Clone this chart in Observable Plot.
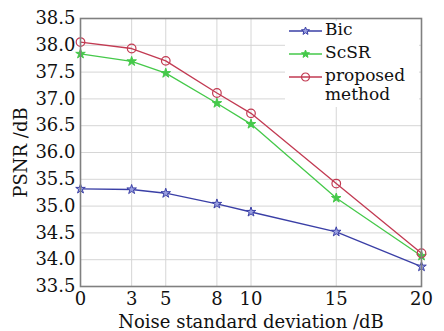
<!DOCTYPE html>
<html><head><meta charset="utf-8">
<script src="https://cdn.jsdelivr.net/npm/d3@7"></script>
<script src="https://cdn.jsdelivr.net/npm/@observablehq/plot@0.6"></script>
<style>
body{margin:0;background:#fff;}
#wrap{position:relative;width:444px;height:331px;font-family:"DejaVu Serif",serif;}
#legend{position:absolute;left:285px;top:21px;width:134px;height:86px;background:#fff;font-size:17px;color:#111;}
.item{position:absolute;left:0;display:flex;align-items:flex-start;}
.item span{margin-left:3px;line-height:19px;margin-top:-1px;}
</style></head><body><div id="wrap"><div id="plot"></div><div id="legend"></div></div>
<script>
const noise = [0, 3, 5, 8, 10, 15, 20];
const bic = [35.32, 35.31, 35.24, 35.04, 34.89, 34.52, 33.87];
const scsr = [37.84, 37.70, 37.48, 36.92, 36.53, 35.15, 34.07];
const proposed = [38.06, 37.94, 37.71, 37.11, 36.73, 35.42, 34.12];
const yTicks = [33.5, 34.0, 34.5, 35.0, 35.5, 36.0, 36.5, 37.0, 37.5, 38.0, 38.5];
const seriesNames = ["Bic", "ScSR", "proposed method"];
const seriesColors = ["#3a3fa6", "#45c94a", "#c23a52"];

const seriesValues = [bic, scsr, proposed];
const data = seriesNames.flatMap((s, i) => noise.map((x, j) => ({series: s, x, y: seriesValues[i][j]})));
const font = "DejaVu Serif";

const chart = Plot.plot({
  width: 444, height: 331,
  marginLeft: 80, marginRight: 23, marginTop: 18, marginBottom: 45,
  style: {fontFamily: font, fontSize: "18px", color: "#111", background: "#fff"},
  x: {domain: [0, 20], ticks: noise, label: null},
  y: {domain: [33.5, 38.5], ticks: yTicks, label: null},
  color: {domain: seriesNames, range: seriesColors},
  marks: [
    Plot.gridX(noise, {stroke: "#d6d6d6", strokeOpacity: 1}),
    Plot.gridY(yTicks, {stroke: "#d6d6d6", strokeOpacity: 1}),
    Plot.line(data, {x: "x", y: "y", z: "series", stroke: "series", strokeWidth: 1.3}),
    Plot.dot(data.filter(d => d.series === "Bic"), {x: "x", y: "y", symbol: "star", r: 3, stroke: "series", fill: "#9aa0e0", strokeWidth: 1}),
    Plot.dot(data.filter(d => d.series === "ScSR"), {x: "x", y: "y", symbol: "star", r: 3, fill: "series", stroke: "series", strokeWidth: 1}),
    Plot.dot(data.filter(d => d.series === "proposed method"), {x: "x", y: "y", symbol: "circle", r: 4.3, stroke: "series", fill: "none", strokeWidth: 1.2}),
    Plot.frame({stroke: "#808080", strokeWidth: 1.6}),
    Plot.axisX(noise, {tickSize: 0, tickPadding: 6, fontSize: 18, label: "Noise standard deviation /dB", labelAnchor: "center", labelOffset: 41, labelArrow: "none"}),
    Plot.axisY(yTicks, {tickSize: 0, tickPadding: 5, fontSize: 18, tickFormat: d => d.toFixed(1), label: "PSNR /dB", labelAnchor: "center", labelOffset: 66, labelArrow: "none"})
  ]
});
document.getElementById("plot").appendChild(chart);

// legend
const legend = document.getElementById("legend");
const tops = [0, 23, 46];
seriesNames.forEach((s, i) => {
  const item = document.createElement("div");
  item.className = "item";
  item.style.top = tops[i] + "px";
  const sym = i === 0
    ? `<path d="M0,-4 L1.1,-1.3 4,-1.2 1.7,0.6 2.5,3.4 0,1.8 -2.5,3.4 -1.7,0.6 -4,-1.2 -1.1,-1.3Z" fill="#9aa0e0" stroke="${seriesColors[i]}" stroke-width="1"/>`
    : i === 1
    ? `<path d="M0,-4 L1.1,-1.3 4,-1.2 1.7,0.6 2.5,3.4 0,1.8 -2.5,3.4 -1.7,0.6 -4,-1.2 -1.1,-1.3Z" fill="${seriesColors[i]}" stroke="${seriesColors[i]}" stroke-width="1"/>`
    : `<circle r="4" fill="none" stroke="${seriesColors[i]}" stroke-width="1.2"/>`;
  const label = i === 2 ? "proposed<br>method" : s;
  item.innerHTML = `<svg width="37" height="20" viewBox="-2 -10 37 20"><line x1="2" x2="35" y1="0" y2="0" stroke="${seriesColors[i]}" stroke-width="1.3"/><g transform="translate(18.5,0)">${sym}</g></svg><span>${label}</span>`;
  legend.appendChild(item);
});
</script></body></html>
